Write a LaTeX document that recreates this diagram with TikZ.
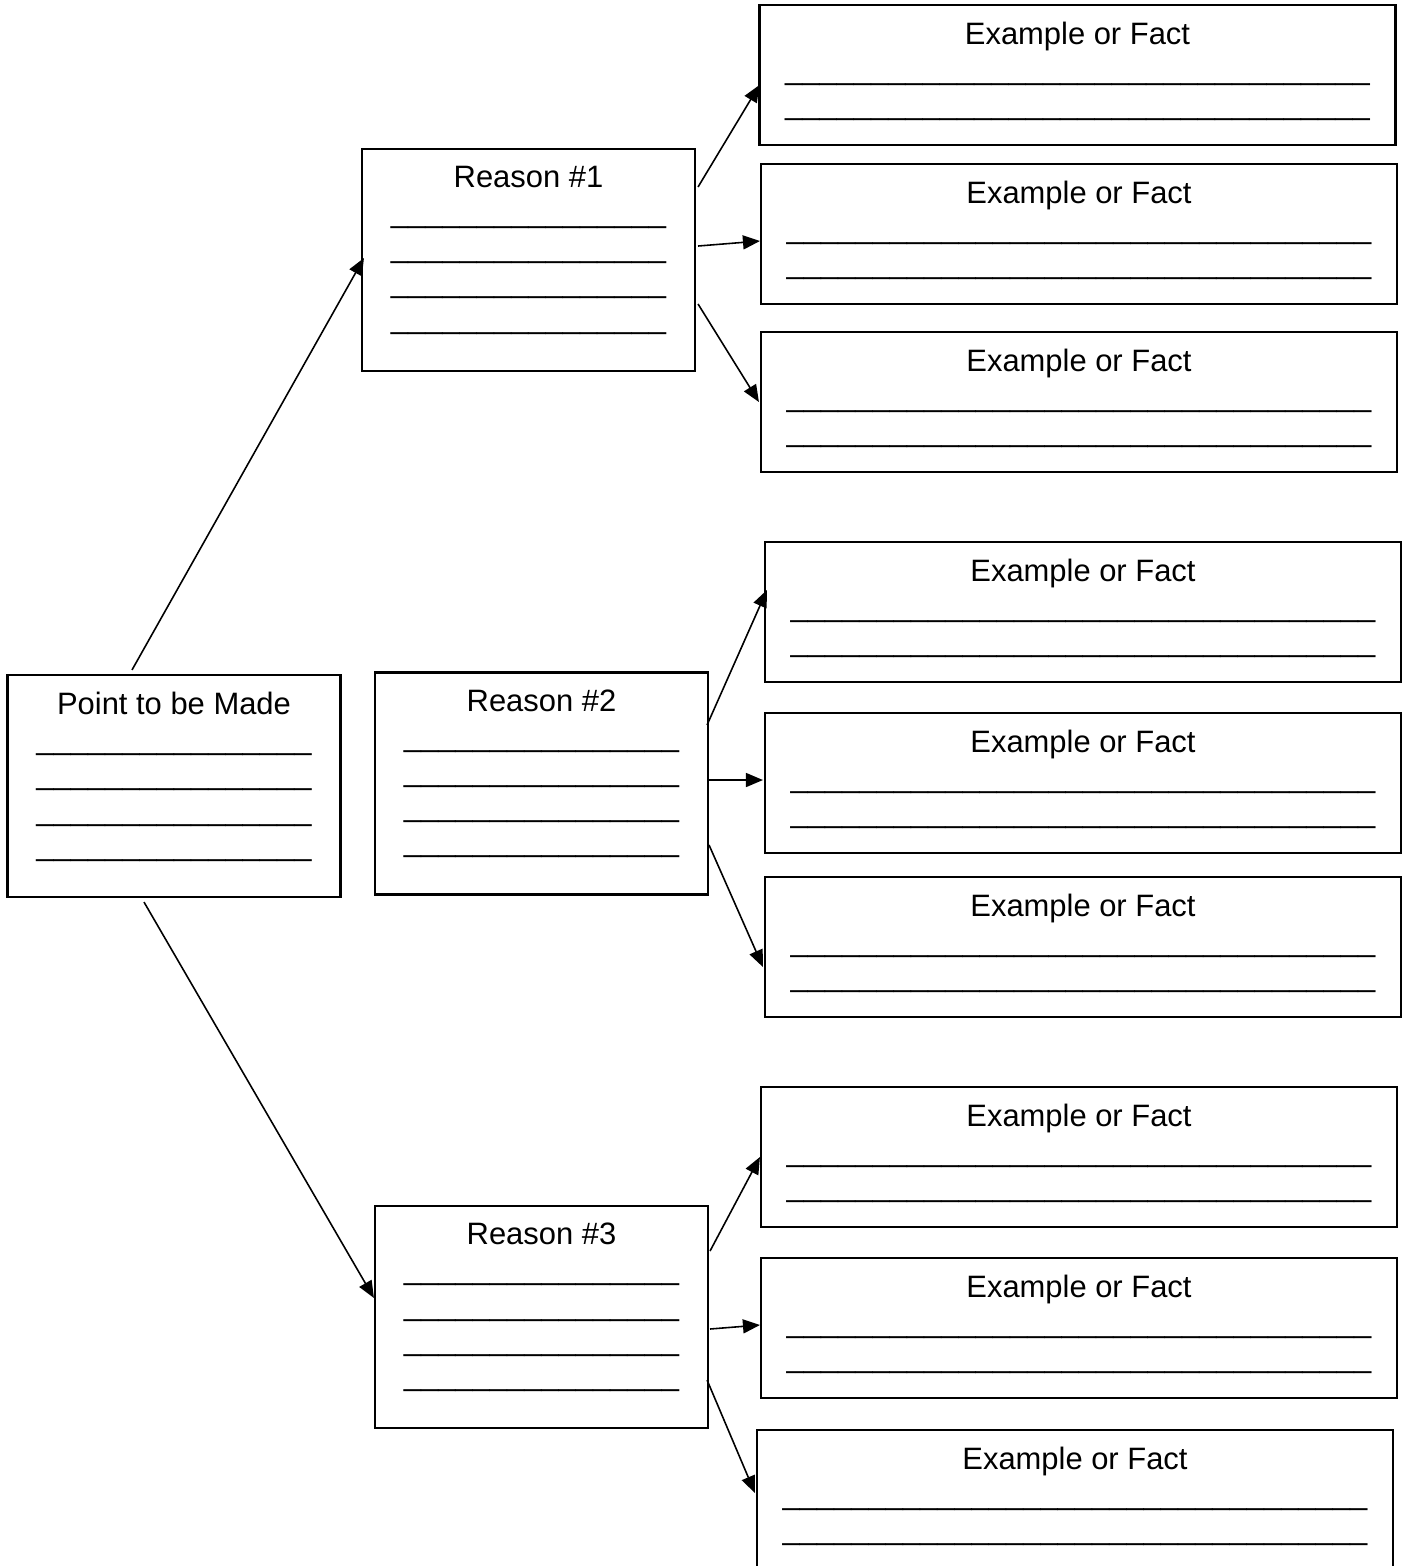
\documentclass[tikz,border=0pt]{standalone}
\usepackage{fontspec}
\setmainfont{Liberation Sans}
\usetikzlibrary{arrows.meta}
\newcommand{\blanks}[1]{\foreach \k in {1,...,#1}{\_}}

\begin{document}
\begin{tikzpicture}[
    box/.style={draw, line width=0.6pt, inner sep=0pt, minimum width=3.33cm, minimum height=2.22cm},
    factbox/.style={draw, line width=0.6pt, inner sep=0pt, minimum width=6.36cm, minimum height=1.40cm},
    txt/.style={anchor=north, inner sep=0pt, align=center, font=\fontsize{8.8}{10}\selectfont},
    link/.style={-{Triangle[length=0.17cm,width=0.14cm]}, line width=0.45pt}]
  \useasboundingbox (0,0) rectangle (14.08,-15.66);
  % main point and reasons
  \node[box] (point) at (1.74,-7.86) {};
  \node[box] (r1) at (5.285,-2.60) {};
  \node[box] (r2) at (5.415,-7.835) {};
  \node[box] (r3) at (5.415,-13.17) {};
  \node[txt] (pointt) at ([yshift=-0.175cm]point.north) {Point to be Made\\\blanks{16}\\\blanks{16}\\\blanks{16}\\\blanks{16}};
  \node[txt] (r1t) at ([yshift=-0.175cm]r1.north) {Reason \#1\\\blanks{16}\\\blanks{16}\\\blanks{16}\\\blanks{16}};
  \node[txt] (r2t) at ([yshift=-0.175cm]r2.north) {Reason \#2\\\blanks{16}\\\blanks{16}\\\blanks{16}\\\blanks{16}};
  \node[txt] (r3t) at ([yshift=-0.175cm]r3.north) {Reason \#3\\\blanks{16}\\\blanks{16}\\\blanks{16}\\\blanks{16}};
  % examples
  \node[factbox] (e1) at (10.775,-0.75) {};
  \node[factbox] (e2) at (10.79,-2.34) {};
  \node[factbox] (e3) at (10.79,-4.02) {};
  \node[factbox] (e4) at (10.83,-6.12) {};
  \node[factbox] (e5) at (10.83,-7.83) {};
  \node[factbox] (e6) at (10.83,-9.47) {};
  \node[factbox] (e7) at (10.79,-11.57) {};
  \node[factbox] (e8) at (10.79,-13.28) {};
  \node[factbox] (e9) at (10.75,-15.00) {};
  \foreach \e in {e1,e2,e3,e4,e5,e6,e7,e8,e9}
    \node[txt] (\e t) at ([yshift=-0.175cm]\e.north) {Example or Fact\\\blanks{34}\\\blanks{34}};
  % arrows
  \draw[link] ([shift={(-0.42,0.04)}]point.north) -- ([shift={(0.03,0.02)}]r1.west);
  \draw[link] ([shift={(-0.30,-0.04)}]point.south) -- ([shift={(0,0.19)}]r3.west);
  \draw[link] ([shift={(0.02,-0.39)}]r1.north east) -- ([shift={(0.01,-0.10)}]e1.west);
  \draw[link] ([shift={(0.02,0.14)}]r1.east) -- ([shift={(0,-0.07)}]e2.west);
  \draw[link] ([shift={(0.02,-0.44)}]r1.east) -- ([shift={(-0.01,0)}]e3.west);
  \draw[link] ([shift={(-0.02,0.585)}]r2.east) -- ([shift={(0.03,0.22)}]e4.west);
  \draw[link] ([shift={(0,0.035)}]r2.east) -- ([shift={(-0.01,0.03)}]e5.west);
  \draw[link] ([shift={(0,-0.615)}]r2.east) -- ([shift={(-0.01,-0.20)}]e6.west);
  \draw[link] ([shift={(0.01,0.66)}]r3.east) -- (e7.west);
  \draw[link] ([shift={(0.01,-0.12)}]r3.east) -- ([shift={(0,0.03)}]e8.west);
  \draw[link] ([shift={(-0.02,-0.63)}]r3.east) -- ([shift={(-0.01,0.07)}]e9.west);
\end{tikzpicture}
\end{document}
